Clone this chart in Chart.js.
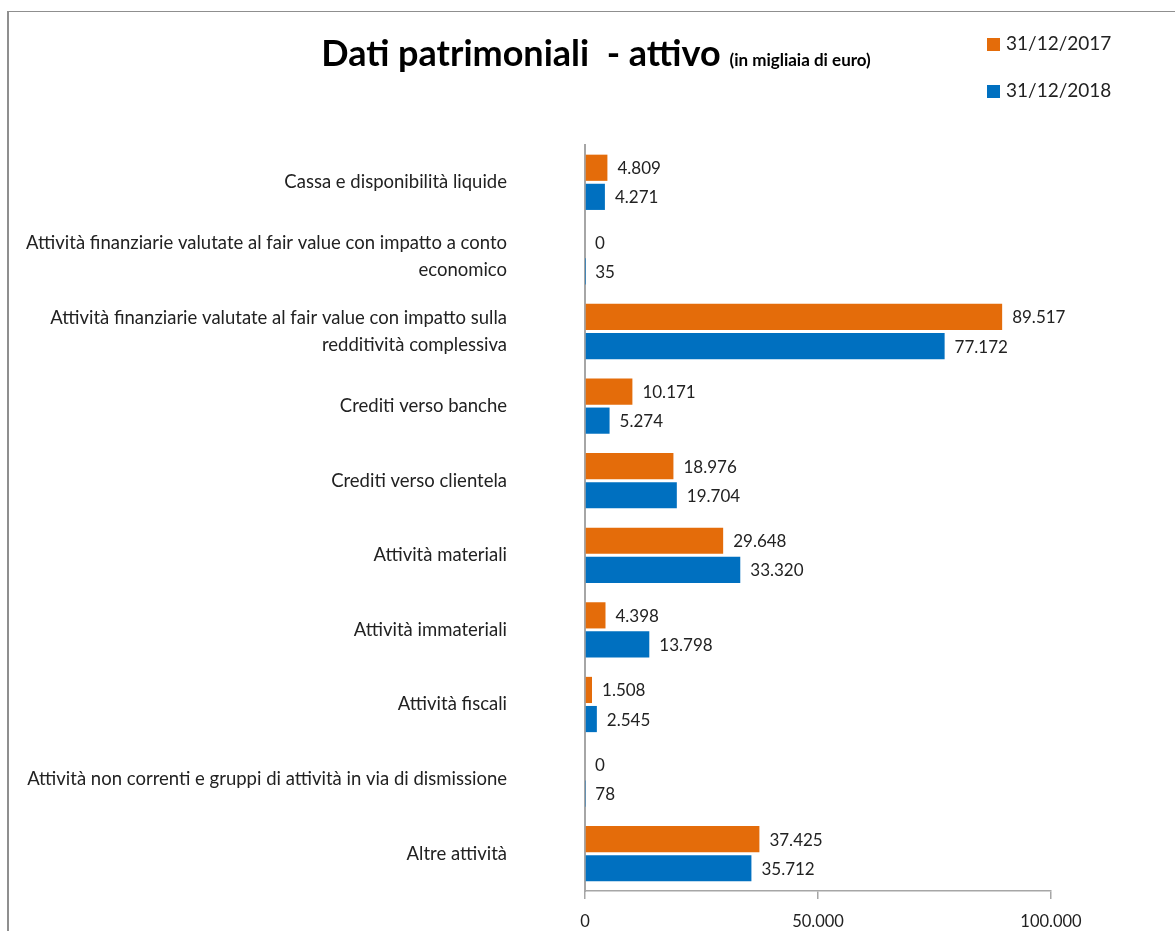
<!DOCTYPE html>
<html>
<head>
<meta charset="utf-8">
<script src="https://cdn.jsdelivr.net/npm/chart.js@4/dist/chart.umd.min.js"></script>
<style>
  html, body { margin: 0; padding: 0; background: #fff; }
  #wrap { position: relative; width: 1175px; height: 931px; overflow: hidden; font-family: Lato, sans-serif; }
  #frame { position: absolute; left: 7px; top: 11px; width: 1300px; height: 1000px; border-left: 2px solid #8f8f8f; border-top: 1px solid #8f8f8f; }
  #title { position: absolute; left: 0; width: 1192px; top: 32px; text-align: center; font-weight: bold; font-size: 36px; color: #000; white-space: pre; line-height: 40px; }
  #title small { font-size: 17px; font-weight: bold; }
  .leg { position: absolute; left: 987px; font-size: 19px; color: #222; line-height: 20px; }
  .leg span.sw { display: inline-block; width: 13px; height: 13px; margin-right: 6px; vertical-align: -1px; }
  #c { position: absolute; left: 0; top: 0; }
</style>
</head>
<body>
<div id="wrap">
  <div id="frame"></div>
  <canvas id="c" width="1175" height="931"></canvas>
  <div id="title">Dati patrimoniali  - attivo <small>(in migliaia di euro)</small></div>
  <div id="legend"></div>
</div>
<script>
const categories = [
  "Cassa e disponibilità liquide",
  ["Attività finanziarie valutate al fair value con impatto a conto", "economico"],
  ["Attività finanziarie valutate al fair value con impatto sulla", "redditività complessiva"],
  "Crediti verso banche",
  "Crediti verso clientela",
  "Attività materiali",
  "Attività immateriali",
  "Attività fiscali",
  "Attività non correnti e gruppi di attività in via di dismissione",
  "Altre attività"
];
const seriesNames = ["31/12/2017", "31/12/2018"];
const values2017 = [4809, 0, 89517, 10171, 18976, 29648, 4398, 1508, 0, 37425];
const values2018 = [4271, 35, 77172, 5274, 19704, 33320, 13798, 2545, 78, 35712];
const seriesColors = ["#E46C0A", "#0070C0"];
const xTicks = [0, 50000, 100000];

function fmt(v) {
  return String(Math.round(v)).replace(/\B(?=(\d{3})+(?!\d))/g, ".");
}

// HTML legend
const legendEl = document.getElementById('legend');
seriesNames.forEach((n, i) => {
  const d = document.createElement('div');
  d.className = 'leg';
  d.style.top = (33 + i * 47) + 'px';
  d.innerHTML = '<span class="sw" style="background:' + seriesColors[i] + '"></span>' + n;
  legendEl.appendChild(d);
});

const valueLabels = {
  id: 'valueLabels',
  afterDatasetsDraw(chart) {
    const ctx = chart.ctx;
    ctx.save();
    ctx.font = '17px Lato';
    ctx.fillStyle = '#222';
    ctx.textBaseline = 'middle';
    ctx.textAlign = 'left';
    chart.data.datasets.forEach((ds, i) => {
      const meta = chart.getDatasetMeta(i);
      meta.data.forEach((bar, j) => {
        ctx.fillText(fmt(ds.data[j]), bar.x + 10, bar.y + 1);
      });
    });
    ctx.restore();
  }
};

new Chart(document.getElementById('c'), {
  type: 'bar',
  data: {
    labels: categories,
    datasets: [
      { label: seriesNames[0], data: values2017, backgroundColor: seriesColors[0], borderWidth: 0 },
      { label: seriesNames[1], data: values2018, backgroundColor: seriesColors[1], borderWidth: 0 }
    ]
  },
  options: {
    indexAxis: 'y',
    responsive: false,
    maintainAspectRatio: false,
    devicePixelRatio: 1,
    animation: false,
    categoryPercentage: 0.78,
    barPercentage: 0.9,
    layout: { padding: { left: 0, top: 145, right: 124, bottom: 0 } },
    plugins: { legend: { display: false }, tooltip: { enabled: false }, title: { display: false } },
    scales: {
      x: {
        min: 0, max: 100000,
        afterBuildTicks(scale) { scale.ticks = xTicks.map(v => ({ value: v })); },
        afterFit(scale) { scale.height = 40; scale.paddingLeft = 0; scale.paddingRight = 0; },
        grid: { display: true, drawOnChartArea: false, drawTicks: true, tickLength: 8, color: '#a6a6a6', lineWidth: 1.5 },
        border: { display: true, color: '#a6a6a6', width: 1.5 },
        ticks: { color: '#222', font: { family: 'Lato', size: 16.5 }, padding: 13, maxRotation: 0, callback: (v) => fmt(v) }
      },
      y: {
        afterFit(scale) { scale.width = 585; scale.paddingTop = 0; scale.paddingBottom = 0; },
        grid: { display: false },
        border: { display: true, color: '#a6a6a6', width: 2 },
        ticks: { color: '#222', font: { family: 'Lato', size: 18.5, lineHeight: 1.45 }, padding: 70 }
      }
    }
  },
  plugins: [valueLabels]
});
</script>
</body>
</html>
